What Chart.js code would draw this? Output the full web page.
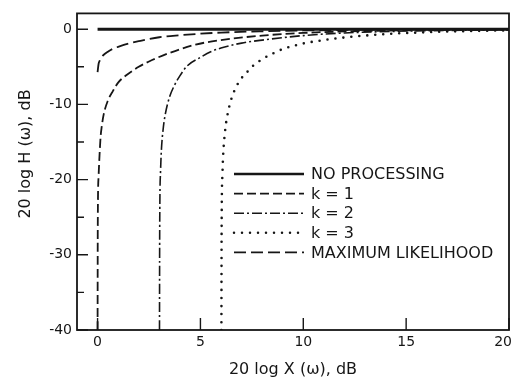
<!DOCTYPE html>
<html>
<head>
<meta charset="utf-8">
<script src="https://cdn.jsdelivr.net/npm/chart.js@4.4.0/dist/chart.umd.min.js"></script>
<style>
  html, body { margin: 0; padding: 0; background: #fff; }
</style>
</head>
<body>
<canvas id="chart-gain" width="514" height="383"></canvas>
<script>
// ─── data ────────────────────────────────────────────────────────────────────
const xNone = [0, 20];
const yNone = [0, 0];

const xK1 = [0, 0.01, 0.05, 0.1, 0.15, 0.2, 0.3, 0.5, 0.75, 1, 1.36, 2, 2.65, 3.5, 4.76, 6, 8, 10, 12, 15, 20];
const yK1 = [-40, -26, -19.5, -16.5, -14.2, -13, -11.3, -9.5, -8.2, -7.1, -6.2, -5.0, -4.1, -3.15, -2.05, -1.45, -0.85, -0.5, -0.3, -0.15, -0.05];

const xK2 = [3.01, 3.02, 3.06, 3.1, 3.2, 3.3, 3.5, 3.75, 4, 4.35, 5, 5.5, 6, 7, 8, 10, 12, 15, 20];
const yK2 = [-40, -26.5, -19, -16.2, -13, -11.2, -9.0, -7.4, -6.2, -4.9, -3.75, -3.0, -2.5, -1.85, -1.45, -0.85, -0.5, -0.25, -0.08];

const xK3 = [6.02, 6.03, 6.07, 6.1, 6.2, 6.3, 6.5, 6.75, 7, 7.27, 7.5, 8, 8.7, 9, 10, 11, 12, 14, 16, 18, 20];
const yK3 = [-40, -26.6, -19.3, -17, -13.5, -11.6, -9.3, -7.6, -6.5, -5.7, -5.0, -4.0, -3.0, -2.65, -1.9, -1.45, -1.1, -0.65, -0.4, -0.25, -0.15];

const xMl = [0, 0.05, 0.1, 0.2, 0.3, 0.5, 0.75, 1, 1.5, 2, 3, 4, 5, 6, 8, 10, 12, 15, 20];
const yMl = [-5.7, -4.6, -4.2, -3.7, -3.4, -3.0, -2.6, -2.35, -1.92, -1.6, -1.07, -0.8, -0.6, -0.45, -0.28, -0.17, -0.1, -0.05, -0.02];

const xTicks = [0, 5, 10, 15, 20];
const yTicks = [-40, -30, -20, -10, 0];
const yMinorTicks = [-35, -25, -15, -5];

const INK = '#161616';
const FONT = '"DejaVu Sans", sans-serif';

const pts = (xs, ys) => xs.map((x, i) => ({ x, y: ys[i] }));

function series(label, xs, ys, width, dash, cap) {
  return {
    label, data: pts(xs, ys),
    borderColor: INK, borderWidth: width,
    borderDash: dash, borderCapStyle: cap || 'butt',
    pointRadius: 0, fill: false,
    cubicInterpolationMode: 'monotone',
  };
}

// frame, inward ticks, x labels, titles and the in-plot legend
const paper = {
  id: 'paper',
  afterDatasetsDraw(chart) {
    const { ctx, chartArea: a, scales: { x, y } } = chart;
    ctx.save();
    ctx.strokeStyle = INK; ctx.fillStyle = INK;

    ctx.lineWidth = 1.8;
    ctx.strokeRect(a.left, a.top, a.right - a.left, a.bottom - a.top);

    ctx.lineWidth = 1.4;
    ctx.beginPath();
    yTicks.forEach(v => { const p = y.getPixelForValue(v); ctx.moveTo(a.left, p); ctx.lineTo(a.left + 11, p); });
    yMinorTicks.forEach(v => { const p = y.getPixelForValue(v); ctx.moveTo(a.left, p); ctx.lineTo(a.left + 7, p); });
    xTicks.forEach(v => { const p = x.getPixelForValue(v); ctx.moveTo(p, a.bottom); ctx.lineTo(p, a.bottom - 12); });
    ctx.stroke();

    ctx.font = `14px ${FONT}`;
    ctx.textBaseline = 'top';
    xTicks.forEach((v, i) => {
      const last = i === xTicks.length - 1;
      ctx.textAlign = last ? 'right' : 'center';
      ctx.fillText(String(v), x.getPixelForValue(v) + (last ? 3 : 0), a.bottom + 5);
    });

    ctx.font = `16px ${FONT}`;
    ctx.textAlign = 'center'; ctx.textBaseline = 'middle';
    ctx.fillText('20 log X (\u03c9), dB', (a.left + a.right) / 2, 370);
    ctx.save();
    ctx.translate(26, 154);
    ctx.rotate(-Math.PI / 2);
    ctx.fillText('20 log H (\u03c9), dB', 0, 0);
    ctx.restore();

    ctx.textAlign = 'left';
    chart.data.datasets.forEach((ds, i) => {
      const ly = 174 + i * 19.6;
      ctx.setLineDash(ds.borderDash || []);
      ctx.lineWidth = Math.min(ds.borderWidth, 2.5);
      ctx.lineCap = ds.borderCapStyle;
      ctx.beginPath(); ctx.moveTo(234, ly); ctx.lineTo(304, ly); ctx.stroke();
      ctx.setLineDash([]);
      ctx.fillText(ds.label, 311, ly + 1);
    });
    ctx.restore();
  }
};

new Chart(document.getElementById('chart-gain'), {
  type: 'line',
  data: {
    datasets: [
      series('NO PROCESSING', xNone, yNone, 3, []),
      series('k = 1', xK1, yK1, 1.8, [9, 4]),
      series('k = 2', xK2, yK2, 1.6, [10, 3, 2, 3]),
      series('k = 3', xK3, yK3, 2.6, [0, 8], 'round'),
      series('MAXIMUM LIKELIHOOD', xMl, yMl, 1.8, [12, 5]),
    ]
  },
  plugins: [paper],
  options: {
    responsive: false, animation: false, devicePixelRatio: 1,
    layout: { padding: { top: 11, right: 5, left: 0, bottom: 0 } },
    plugins: { legend: { display: false }, tooltip: { enabled: false } },
    scales: {
      x: {
        type: 'linear', min: -1, max: 20,
        grid: { display: false }, border: { display: false },
        ticks: { display: false },
        afterFit: s => { s.height = 53; },
      },
      y: {
        min: -40, max: 2.1,
        grid: { display: false, drawTicks: false }, border: { display: false },
        ticks: { color: INK, padding: 5, font: { family: FONT, size: 14 } },
        afterBuildTicks: s => { s.ticks = yTicks.map(v => ({ value: v })); },
        afterFit: s => { s.width = 77; },
      }
    }
  }
});
</script>
</body>
</html>
